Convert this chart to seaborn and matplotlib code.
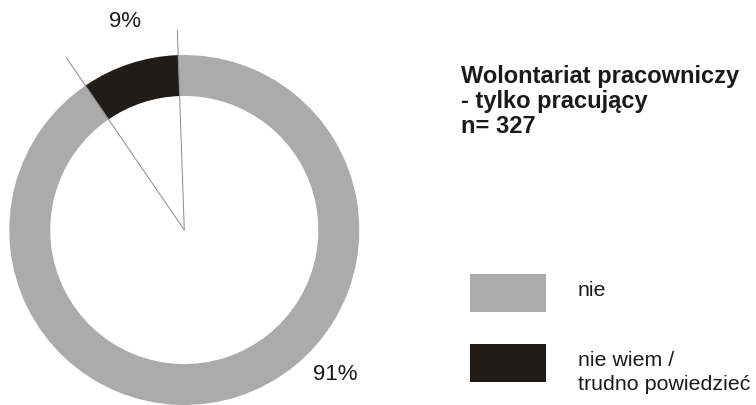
import numpy as np
import matplotlib
matplotlib.use("Agg")
import matplotlib.pyplot as plt
from matplotlib.patches import Rectangle
import seaborn as sns

# Survey answers (share of respondents, %)
categories = ["nie wiem /\ntrudno powiedzieć", "nie"]
shares = [9, 91]
colors = ["#201c1a", "#ababab"]
title_lines = ["Wolontariat pracowniczy", "- tylko pracujący", "n= 327"]

sns.set_theme(style="white")
plt.rcParams["font.family"] = ["Liberation Sans", "DejaVu Sans"]

W, H = 756, 405
fig = plt.figure(figsize=(W / 100, H / 100), dpi=100)
fig.patch.set_facecolor("white")

# Donut chart
R_PX = 175
cx, cy = 184.3, 230
ax = fig.add_axes([(cx - R_PX) / W, (H - cy - R_PX) / H, 2 * R_PX / W, 2 * R_PX / H])
start = 92.0
wedges, _ = ax.pie(shares, colors=colors, startangle=start, counterclock=True,
                   radius=1.0, wedgeprops=dict(width=0.234, linewidth=0))
ax.set_xlim(-1, 1)
ax.set_ylim(-1, 1)
ax.set_aspect("equal")
ax.axis("off")

# Thin guide lines along the edges of the small slice
edge_angles = [start, start + shares[0] / 100 * 360]
edge_lengths = [1.14, 1.19]
for a, L in zip(edge_angles, edge_lengths):
    t = np.deg2rad(a)
    ax.plot([0, L * np.cos(t)], [0, L * np.sin(t)], color="#8a8a8a",
            lw=0.7, clip_on=False, zorder=3)

# Percentage labels
ax.text(-0.339, 1.194, f"{shares[0]}%", ha="center", va="center",
        fontsize=16, color="#1a1a1a", clip_on=False)
ax.text(0.861, -0.823, f"{shares[1]}%", ha="center", va="center",
        fontsize=16, color="#1a1a1a", clip_on=False)

# Title and legend in pixel space
lay = fig.add_axes([0, 0, 1, 1])
lay.set_xlim(0, W)
lay.set_ylim(H, 0)
lay.axis("off")
lay.patch.set_alpha(0)

for i, line in enumerate(title_lines):
    lay.text(461, 83 + i * 25, line, ha="left", va="baseline",
             fontsize=17, fontweight="bold", color="#1a1a1a")

legend_rows = [(1, 293, [295.5]), (0, 363, [365.5, 389.5])]
for idx, box_y, baselines in legend_rows:
    lay.add_patch(Rectangle((470, box_y - 19), 76, 38, facecolor=colors[idx],
                            edgecolor="none"))
    for line, yb in zip(categories[idx].split("\n"), baselines):
        lay.text(578, yb, line, ha="left", va="baseline",
                 fontsize=15.4, color="#1a1a1a")

fig.savefig("out.png", dpi=100, facecolor="white")
